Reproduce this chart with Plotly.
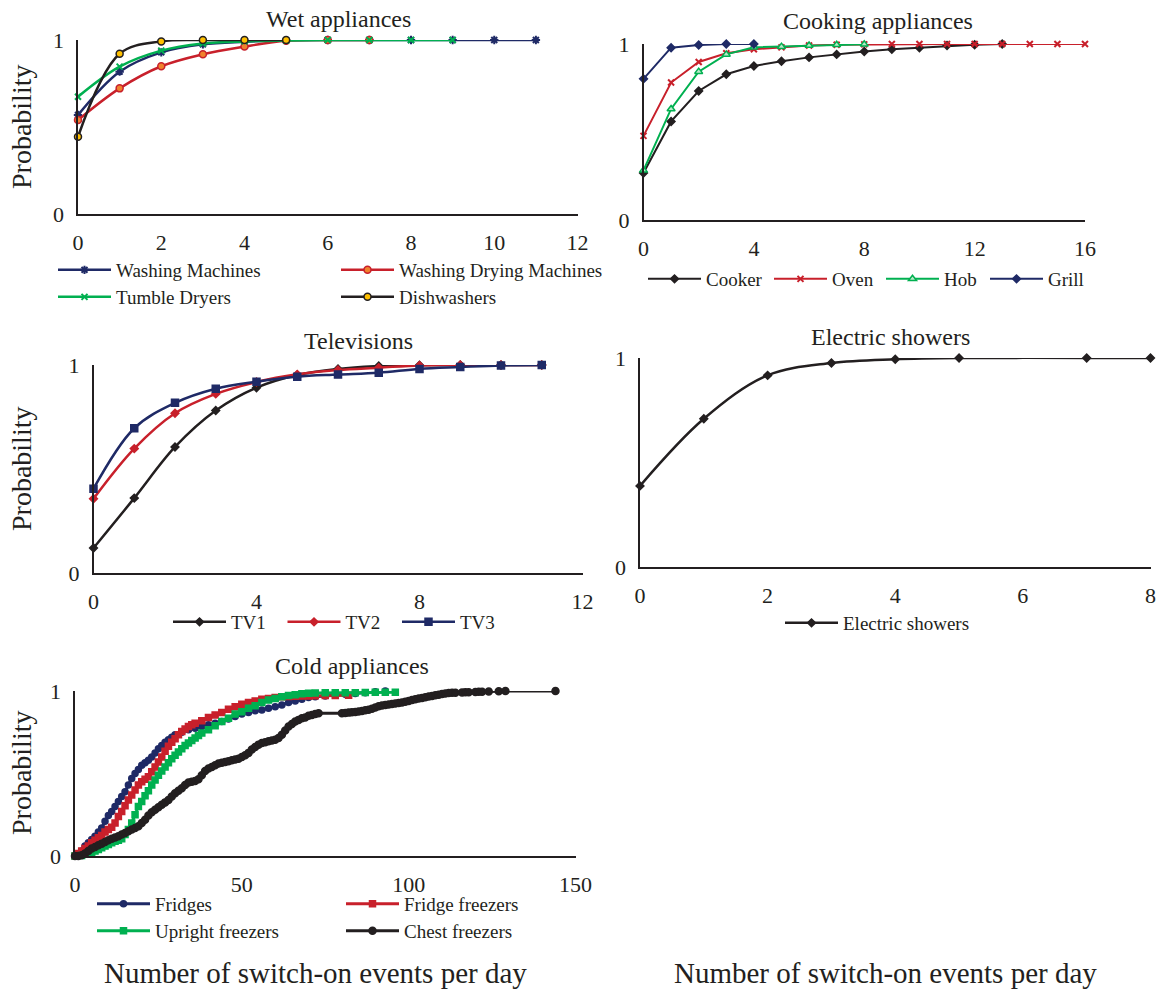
import plotly.graph_objects as go

W, H = 1157, 992
FONT = "Liberation Serif"
INK = "#231F20"
NAVY = "#1F2A66"
RED = "#C8202B"
GREEN = "#00B050"
BLACK = "#231F20"

# ---------------- data ----------------
wet_titles = ["Washing Machines", "Washing Drying Machines", "Tumble Dryers", "Dishwashers"]
wm_x = [0, 1, 2, 3, 4, 5, 6, 7, 8, 9, 10, 11]
wm_y = [0.569, 0.818, 0.929, 0.975, 0.99, 0.998, 1, 1, 1, 1, 1, 1]
wdm_x = [0, 1, 2, 3, 4, 5, 6, 7]
wdm_y = [0.540, 0.722, 0.849, 0.918, 0.962, 0.996, 1.0, 1.0]
td_x = [0, 1, 2, 3, 4, 5, 6, 7, 8, 9]
td_y = [0.674, 0.847, 0.939, 0.98, 0.992, 0.997, 1, 1, 1, 1]
dw_x = [0, 1, 2, 3, 4, 5]
dw_y = [0.444, 0.921, 0.992, 1.0, 1.0, 1.0]

cooker_x = list(range(14))
cooker_y = [0.267, 0.560, 0.733, 0.828, 0.875, 0.902, 0.924, 0.941, 0.957, 0.970, 0.979, 0.991, 0.996, 1.0]
oven_x = list(range(17))
oven_y = [0.478, 0.781, 0.898, 0.947, 0.970, 0.981, 0.991, 0.996, 0.998, 1, 1, 1, 1, 1, 1, 1, 1]
hob_x = list(range(9))
hob_y = [0.282, 0.631, 0.843, 0.941, 0.981, 0.985, 0.991, 0.996, 0.998]
grill_x = [0, 1, 2, 3, 4]
grill_y = [0.802, 0.979, 0.994, 1.0, 1.0]

tv_x = list(range(12))
tv1_y = [0.12, 0.36, 0.606, 0.781, 0.891, 0.952, 0.981, 0.995, 0.999, 1, 1, 1]
tv2_y = [0.357, 0.598, 0.768, 0.861, 0.918, 0.955, 0.976, 0.987, 0.998, 1, 1, 1]
tv3_y = [0.405, 0.696, 0.818, 0.886, 0.92, 0.944, 0.954, 0.963, 0.981, 0.990, 0.998, 1.0]

shower_x = [0, 1, 2, 3, 4, 5, 7, 8]
shower_y = [0.388, 0.709, 0.917, 0.976, 0.994, 1, 1, 1]

fridge_x = [0, 1, 2, 3, 4, 5, 6, 7, 8, 9, 10, 11, 12, 13, 14, 15, 16, 17, 18, 19, 20, 21, 22, 23, 24,
            25, 26, 27, 28, 29, 30, 32, 34, 36, 38, 40, 42, 44, 46, 48, 50, 52, 54, 56, 58, 60, 62,
            64, 66, 68, 70, 72, 75, 78, 81, 84, 87, 90, 93]
fridge_y = [0, 0.01, 0.03, 0.06, 0.08, 0.10, 0.12, 0.145, 0.17, 0.21, 0.245, 0.27, 0.30, 0.33, 0.36,
            0.39, 0.43, 0.47, 0.50, 0.525, 0.55, 0.565, 0.58, 0.60, 0.625, 0.65, 0.67, 0.69, 0.705,
            0.72, 0.735, 0.75, 0.765, 0.775, 0.785, 0.795, 0.805, 0.815, 0.83, 0.845, 0.86, 0.87,
            0.88, 0.885, 0.895, 0.905, 0.915, 0.93, 0.94, 0.95, 0.96, 0.965, 0.97, 0.975, 0.98,
            0.985, 0.99, 0.995, 1.0]

ff_x = [0, 1, 2, 3, 4, 5, 6, 7, 8, 9, 10, 11, 12, 13, 14, 15, 16, 17, 18, 19, 20, 21, 22, 23, 24, 25,
        26, 27, 28, 29, 30, 31, 32, 33, 34, 35, 36, 38, 40, 42, 44, 46, 48, 50, 52, 54, 56, 58, 60,
        62, 64, 66, 68, 70, 72, 75, 78, 82]
ff_y = [0, 0.015, 0.03, 0.045, 0.06, 0.08, 0.095, 0.11, 0.125, 0.145, 0.16, 0.175, 0.20, 0.24, 0.27,
        0.305, 0.34, 0.37, 0.40, 0.43, 0.45, 0.465, 0.48, 0.51, 0.54, 0.57, 0.60, 0.635, 0.665, 0.69,
        0.71, 0.735, 0.755, 0.77, 0.785, 0.795, 0.805, 0.82, 0.84, 0.855, 0.87, 0.89, 0.905, 0.92,
        0.93, 0.94, 0.95, 0.955, 0.96, 0.965, 0.967, 0.968, 0.969, 0.97, 0.971, 0.972, 0.973, 0.975]

uf_x = [0, 2, 4, 5, 6, 7, 8, 9, 10, 11, 12, 13, 14, 15, 16, 17, 18, 19, 20, 21, 22, 23, 24, 25, 26,
        27, 28, 29, 30, 31, 32, 33, 34, 35, 36, 37, 38, 40, 42, 44, 46, 48, 50, 52, 54, 56, 58, 60,
        62, 64, 66, 68, 70, 72, 75, 78, 81, 84, 87, 90, 93, 96]
uf_y = [0, 0.003, 0.012, 0.02, 0.03, 0.04, 0.05, 0.06, 0.07, 0.08, 0.09, 0.095, 0.105, 0.13, 0.16,
        0.20, 0.25, 0.30, 0.33, 0.365, 0.395, 0.43, 0.46, 0.49, 0.515, 0.54, 0.565, 0.59, 0.61, 0.63,
        0.65, 0.67, 0.685, 0.70, 0.715, 0.73, 0.745, 0.765, 0.79, 0.815, 0.835, 0.86, 0.875, 0.895,
        0.91, 0.93, 0.945, 0.955, 0.965, 0.972, 0.978, 0.983, 0.986, 0.988, 0.99, 0.99, 0.99, 0.99,
        0.991, 0.992, 0.992, 0.993]

cf_x = [0, 1, 2, 3, 4, 5, 6, 7, 8, 9, 10, 11, 12, 13, 14, 15, 16, 17, 18, 19, 20, 21, 22, 23, 24, 25,
        26, 27, 28, 29, 30, 31, 32, 33, 34, 35, 36, 37, 38, 39, 40, 41, 42, 43, 44, 45, 46, 47, 48,
        49, 50, 51, 52, 53, 54, 55, 56, 57, 58, 59, 60, 61, 62, 63, 64, 65, 66, 67, 68, 69, 70, 71,
        72, 73, 80, 81, 82, 83, 84, 85, 86, 87, 88, 89, 90, 91, 92, 93, 94, 95, 96, 97, 98, 99, 100,
        101, 102, 103, 104, 105, 106, 107, 108, 109, 110, 111, 112, 113, 114, 116, 117, 118, 120,
        121, 122, 124, 127, 129, 144]
cf_y = [0, 0.0, 0.005, 0.015, 0.03, 0.045, 0.055, 0.065, 0.075, 0.085, 0.095, 0.105, 0.112, 0.12,
        0.13, 0.14, 0.15, 0.16, 0.17, 0.18, 0.20, 0.22, 0.245, 0.265, 0.28, 0.295, 0.31, 0.325, 0.34,
        0.36, 0.38, 0.395, 0.41, 0.43, 0.445, 0.45, 0.455, 0.465, 0.49, 0.515, 0.53, 0.54, 0.55,
        0.56, 0.565, 0.57, 0.575, 0.58, 0.585, 0.59, 0.60, 0.61, 0.625, 0.645, 0.66, 0.675, 0.685,
        0.69, 0.695, 0.70, 0.705, 0.715, 0.735, 0.76, 0.785, 0.80, 0.815, 0.825, 0.835, 0.84, 0.85,
        0.855, 0.86, 0.865, 0.865, 0.867, 0.869, 0.871, 0.873, 0.876, 0.879, 0.883, 0.887, 0.893,
        0.90, 0.907, 0.912, 0.915, 0.918, 0.921, 0.924, 0.927, 0.93, 0.935, 0.94, 0.945, 0.95,
        0.954, 0.958, 0.962, 0.966, 0.97, 0.974, 0.978, 0.982, 0.985, 0.988, 0.989, 0.99, 0.991,
        0.992, 0.993, 0.994, 0.995, 0.996, 0.997, 0.998, 1.0, 1.0]

panel_titles = ["Wet appliances", "Cooking appliances", "Televisions", "Electric showers", "Cold appliances"]
xlabel = "Number of switch-on events per day"
ylabel = "Probability"

# ---------------- layout helpers (pixel boxes) ----------------
def px_x(v):
    return v / W

def px_y(v):
    return 1 - v / H

# panel boxes: (x0, x1, ytop, ybottom), ranges, ticks
panels = [
    dict(box=(78, 577.5, 40, 214), xr=[0, 12], xt=[0, 2, 4, 6, 8, 10, 12]),
    dict(box=(643.5, 1085, 44, 220), xr=[0, 16], xt=[0, 4, 8, 12, 16]),
    dict(box=(93.5, 582.5, 365, 573), xr=[0, 12], xt=[0, 4, 8, 12]),
    dict(box=(640, 1150.5, 358, 567), xr=[0, 8], xt=[0, 2, 4, 6, 8]),
    dict(box=(75, 575.5, 691, 856), xr=[0, 150], xt=[0, 50, 100, 150]),
]

fig = go.Figure()
layout = dict(width=W, height=H, margin=dict(l=0, r=0, t=0, b=0, autoexpand=False),
              paper_bgcolor="white", plot_bgcolor="white",
              font=dict(family=FONT, color=INK, size=22), annotations=[])

for i, p in enumerate(panels, start=1):
    x0, x1, yt, yb = p["box"]
    sx = "" if i == 1 else str(i)
    layout["xaxis" + sx] = dict(domain=[px_x(x0), px_x(x1)], range=p["xr"], tickvals=p["xt"],
                                anchor="y" + sx, showline=True, linecolor=INK, linewidth=1.6,
                                showgrid=False, zeroline=False, ticks="outside", ticklen=8,
                                tickcolor="rgba(0,0,0,0)", tickfont=dict(size=22, family=FONT, color=INK),
                                fixedrange=True, automargin=False)
    layout["yaxis" + sx] = dict(domain=[px_y(yb), px_y(yt)], range=[0, 1], tickvals=[0, 1],
                                anchor="x" + sx, showline=True, linecolor=INK, linewidth=1.6,
                                showgrid=False, zeroline=False, ticks="outside", ticklen=8,
                                tickcolor="rgba(0,0,0,0)", tickfont=dict(size=22, family=FONT, color=INK),
                                fixedrange=True, automargin=False)

# titles
title_pos = [(338, 19), (878, 21), (358, 341), (890, 337), (352, 666)]
for t, (tx, ty) in zip(panel_titles, title_pos):
    layout["annotations"].append(dict(text=t, x=px_x(tx), y=px_y(ty), xref="paper", yref="paper",
                                      showarrow=False, xanchor="center", yanchor="middle",
                                      font=dict(size=24, family=FONT, color=INK)))
# y labels
for cy in [127, 469, 773]:
    layout["annotations"].append(dict(text=ylabel, x=px_x(21), y=px_y(cy), xref="paper", yref="paper",
                                      showarrow=False, textangle=-90, xanchor="center", yanchor="middle",
                                      font=dict(size=28, family=FONT, color=INK)))
# x labels
for cx in [315, 885]:
    layout["annotations"].append(dict(text=xlabel, x=px_x(cx), y=px_y(973), xref="paper", yref="paper",
                                      showarrow=False, xanchor="center", yanchor="middle",
                                      font=dict(size=29, family=FONT, color=INK)))

# legends
def add_legend(name, x, y, entrywidth=None):
    d = dict(orientation="h", x=px_x(x), y=px_y(y), xanchor="left", yanchor="middle",
             xref="paper", yref="paper", bgcolor="rgba(0,0,0,0)", itemwidth=53,
             font=dict(size=19, family=FONT, color=INK), tracegroupgap=0, traceorder="normal")
    if entrywidth:
        d["entrywidth"] = entrywidth
        d["entrywidthmode"] = "pixels"
    layout[name] = d

add_legend("legend", 53, 270, 215)
add_legend("legend2", 53, 297, 215)
add_legend("legend3", 643, 279)
add_legend("legend4", 168, 622, 46.5)
add_legend("legend5", 780, 623)
add_legend("legend6", 92, 904, 181)
add_legend("legend7", 92, 931, 181)

def tr(x, y, name, color, axis, legend, symbol, msize, shape="spline", lw=2.5,
       mfill=None, mline=None, mlw=1.5, lwidth=None):
    sx = "" if axis == 1 else str(axis)
    marker = dict(symbol=symbol, size=msize, color=mfill if mfill else color,
                  line=dict(color=mline if mline else color, width=mlw))
    kw = {}
    if lwidth:
        kw["legendwidth"] = lwidth
    fig.add_trace(go.Scatter(x=x, y=y, name=name, mode="lines+markers",
                             line=dict(color=color, width=lw, shape=shape),
                             marker=marker, xaxis="x" + sx, yaxis="y" + sx,
                             legend=legend, cliponaxis=False, hoverinfo="skip", **kw))

# wet
tr(wm_x, wm_y, wet_titles[0], NAVY, 1, "legend", "asterisk-open", 7, mlw=2)
tr(wdm_x, wdm_y, wet_titles[1], RED, 1, "legend", "circle", 7, mfill="#F0822D", mline=RED)
tr(td_x, td_y, wet_titles[2], GREEN, 1, "legend2", "x-thin-open", 6, mlw=2)
tr(dw_x, dw_y, wet_titles[3], BLACK, 1, "legend2", "circle", 7, mfill="#FFC000", mline=BLACK)
# cooking
tr(cooker_x, cooker_y, "Cooker", BLACK, 2, "legend3", "diamond", 6, shape="linear", lw=2, lwidth=58)
tr(oven_x, oven_y, "Oven", RED, 2, "legend3", "x-thin-open", 6, shape="linear", lw=2, mlw=2, lwidth=44)
tr(hob_x, hob_y, "Hob", GREEN, 2, "legend3", "triangle-up", 7, shape="linear", lw=2,
   mfill="#B8E8C8", mline=GREEN, lwidth=36)
tr(grill_x, grill_y, "Grill", NAVY, 2, "legend3", "diamond", 6, shape="linear", lw=2)
# TV
tr(tv_x, tv1_y, "TV1", BLACK, 3, "legend4", "diamond", 6)
tr(tv_x, tv2_y, "TV2", RED, 3, "legend4", "diamond", 6)
tr(tv_x, tv3_y, "TV3", NAVY, 3, "legend4", "square", 7)
# showers
tr(shower_x, shower_y, "Electric showers", BLACK, 4, "legend5", "diamond", 6)
# cold
tr(fridge_x, fridge_y, "Fridges", NAVY, 5, "legend6", "circle", 6, shape="linear", lw=3)
tr(ff_x, ff_y, "Fridge freezers", RED, 5, "legend6", "square", 6, shape="linear", lw=3)
tr(uf_x, uf_y, "Upright freezers", GREEN, 5, "legend7", "square", 6, shape="linear", lw=3)
tr(cf_x, cf_y, "Chest freezers", BLACK, 5, "legend7", "circle", 7, shape="linear", lw=3)

fig.update_layout(**layout)
fig.write_html("out.html", config={"displayModeBar": False, "staticPlot": True},
               post_script="document.body.style.margin='0';document.body.style.overflow='hidden';")
